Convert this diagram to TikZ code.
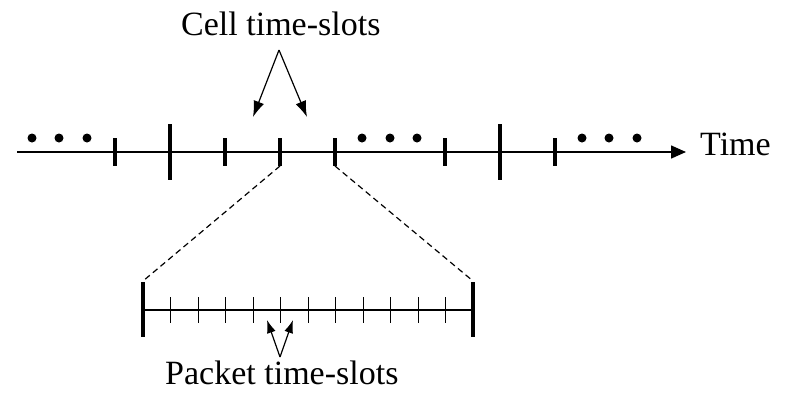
\documentclass[tikz,border=0pt]{standalone}
\usepackage{fontspec}
\setmainfont{Liberation Serif}
\usetikzlibrary{arrows.meta}

\tikzset{
  label/.style={anchor=base west, inner sep=0pt, font=\fontsize{34}{40}\selectfont},
  slotmark/.style={line width=3.2pt},
  pointer/.style={line width=1.2pt, -{Latex[length=16pt,width=11pt]}}
}

\begin{document}
\begin{tikzpicture}[x=1pt,y=-1pt]
    \useasboundingbox (0,0) rectangle (791,400);
    % time axis
    \coordinate (start) at (17,152);
    \coordinate (tip) at (686,152);
    \node[label] (time) at (700,155) {Time};
    \draw[line width=1.5pt, -{Triangle[length=15pt,width=13pt]}] (start) -- (tip);
    \foreach \x in {115,225,280,335,445,555}
        \draw[slotmark] (\x,138) -- (\x,166);
    \foreach \x in {170,500}
        \draw[slotmark] (\x,124) -- (\x,180);
    \foreach \x in {32,59,87,362,390,417,582,609,637}
        \fill (\x,138) circle (4.5pt);
    % cell slot zoomed
    \coordinate (cellA) at (280,166);
    \coordinate (cellB) at (335,166);
    \coordinate (pktA) at (143,281);
    \coordinate (pktB) at (473,281);
    \draw[line width=1.2pt, dash pattern=on 6pt off 4pt] (cellA) -- (pktA);
    \draw[line width=1.2pt, dash pattern=on 6pt off 4pt] (cellB) -- (pktB);
    \draw[line width=1.3pt] (143,310) -- (473,310);
    \draw[slotmark] (143,282) -- (143,337);
    \draw[slotmark] (473,282) -- (473,337);
    \foreach \i in {1,...,11}
        \draw[line width=1pt] (143+27.5*\i,297) -- ++(0,26);
    % labels
    \node[label] (cell) at (181,35) {Cell time-slots};
    \coordinate (cellapex) at (279,50);
    \coordinate (cellL) at (253,117);
    \coordinate (cellR) at (307,117);
    \draw[pointer] (cellapex) -- (cellL);
    \draw[pointer] (cellapex) -- (cellR);
    \node[label] (packet) at (165,384) {Packet time-slots};
    \coordinate (pktapex) at (280,357);
    \coordinate (pktL) at (267,320);
    \coordinate (pktR) at (293,320);
    \draw[pointer, -{Latex[length=13pt,width=9pt]}] (pktapex) -- (pktL);
    \draw[pointer, -{Latex[length=13pt,width=9pt]}] (pktapex) -- (pktR);
\end{tikzpicture}
\end{document}
